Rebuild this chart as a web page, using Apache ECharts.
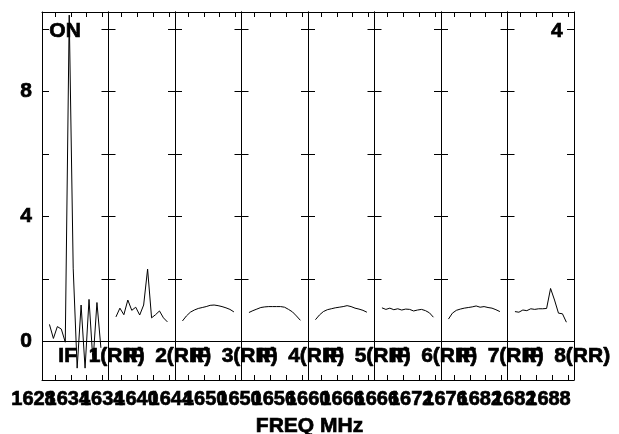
<!DOCTYPE html>
<html>
<head>
<meta charset="utf-8">
<script src="https://cdn.jsdelivr.net/npm/echarts@6/dist/echarts.min.js"></script>
<style>html,body{margin:0;padding:0;background:#fff}#c{width:619px;height:434px}</style>
</head>
<body>
<div id="c"></div>
<script>
// ---- data ----
const ifLabels = ['IF  1(RR)', 'IF  2(RR)', 'IF  3(RR)', 'IF  4(RR)', 'IF  5(RR)', 'IF  6(RR)', 'IF  7(RR)', 'IF  8(RR)'];
const freqTickLabels = ['1628', '1634', '1634', '1640', '1644', '1650', '1650', '1656',
                        '1660', '1666', '1666', '1672', '1676', '1682', '1682', '1688'];
const yTickLabels = [0, 4, 8];
// channel offsets within each IF (MHz)
const channelMHz = [-0.35, -0.10, 0.15, 0.40, 0.65, 0.90, 1.15, 1.40, 1.65, 1.90, 2.15, 2.40, 2.65, 2.90];
const if1 = [0.55, 0.10, 0.48, 0.40, -0.02, 10.45, 2.35, -0.85, 1.17, -0.85, 1.35, -0.65, 1.25, -0.20];
const if2 = [0.79, 1.07, 0.86, 1.33, 1.00, 1.10, 0.85, 1.17, 2.32, 0.76, 0.86, 0.98, 0.76, 0.63];
const if3 = [0.66, 0.82, 0.94, 1.01, 1.06, 1.09, 1.12, 1.16, 1.17, 1.15, 1.12, 1.08, 1.03, 0.95];
const if4 = [0.93, 0.99, 1.04, 1.09, 1.11, 1.12, 1.12, 1.12, 1.12, 1.10, 1.03, 0.95, 0.82, 0.68];
const if5 = [0.70, 0.85, 0.96, 1.02, 1.05, 1.08, 1.10, 1.12, 1.15, 1.12, 1.07, 1.04, 1.00, 0.94];
const if6 = [1.08, 1.03, 1.07, 1.02, 1.05, 1.01, 1.04, 1.03, 0.98, 1.01, 1.03, 0.99, 0.92, 0.78];
const if7 = [0.72, 0.91, 1.00, 1.04, 1.07, 1.09, 1.11, 1.14, 1.10, 1.12, 1.09, 1.07, 1.02, 0.96];
const if8 = [0.96, 0.94, 1.01, 0.99, 1.05, 1.03, 1.05, 1.05, 1.06, 1.70, 1.33, 0.91, 0.89, 0.62];
const spectra = [if1, if2, if3, if4, if5, if6, if7, if8];
const cornerLeft = 'ON';
const cornerRight = '4';
const xTitle = 'FREQ MHz';

// ---- layout / style ----
const FONT = "'Liberation Sans', Arial, Helvetica, sans-serif";
const PL = 42, PR = 574, PT = 12, PB = 380;
const nP = spectra.length;
const PW = (PR - PL) / nP;
const X_MIN = -0.82, X_MAX = 3.38;
const Y_MIN = -1.23, Y_MAX = 10.55;
const black = '#000';
const heavy = { textBorderColor: black, textBorderWidth: 0.7 };
const heavyG = { stroke: black, lineWidth: 0.7 };

const grids = [], xAxes = [], yAxes = [], series = [], graphics = [];
for (let i = 0; i < nP; i++) {
  grids.push({ left: PL + i * PW, top: PT, width: PW, height: PB - PT });
  ['bottom', 'top'].forEach(pos => xAxes.push({
    type: 'value', gridIndex: i, position: pos, min: X_MIN, max: X_MAX, splitNumber: 4,
    axisLine: { show: true, onZero: false, lineStyle: { color: black, width: 1 } },
    axisTick: { show: true, inside: true, length: 5, lineStyle: { color: black, width: 1 } },
    axisLabel: { show: false }, splitLine: { show: false }
  }));
  ['left', 'right'].forEach(pos => yAxes.push({
    type: 'value', gridIndex: i, position: pos, min: Y_MIN, max: Y_MAX, splitNumber: 6,
    axisLine: { show: true, onZero: false, lineStyle: { color: black, width: 1 } },
    axisTick: { show: true, inside: true, length: 7, lineStyle: { color: black, width: 1 } },
    axisLabel: Object.assign({
      show: i === 0 && pos === 'left', margin: 10, color: black, fontSize: 21, fontWeight: 'bold', fontFamily: FONT,
      formatter: v => (yTickLabels.indexOf(Math.round(v * 1000) / 1000) >= 0 ? String(v) : '')
    }, heavy),
    splitLine: { show: false }
  }));
  series.push({
    type: 'line', xAxisIndex: 2 * i, yAxisIndex: 2 * i,
    data: channelMHz.map((x, k) => [x, spectra[i][k]]),
    symbol: 'none', showSymbol: false, animation: false, clip: true,
    lineStyle: { color: black, width: 1 },
    markLine: {
      silent: true, symbol: ['none', 'none'], animation: false,
      label: { show: false },
      lineStyle: { color: black, width: 1, type: 'solid' },
      data: [{ yAxis: 0 }]
    }
  });
  graphics.push({
    type: 'text', left: PL + i * PW + 16, top: 345, z: 10,
    style: Object.assign({ text: ifLabels[i], fill: black, font: 'bold 21px ' + FONT }, heavyG)
  });
}
// overlay grid carrying the frequency tick labels
grids.push({ left: 33.5, top: PT, width: 515, height: PB - PT });
xAxes.push({
  type: 'category', gridIndex: nP, data: freqTickLabels, boundaryGap: false,
  axisLine: { show: false }, axisTick: { show: false }, splitLine: { show: false },
  axisLabel: Object.assign({ interval: 0, margin: 9, color: black, fontSize: 20, fontWeight: 'bold', fontFamily: FONT, hideOverlap: false }, heavy)
});
yAxes.push({ type: 'value', gridIndex: nP, show: false });

graphics.push(
  { type: 'text', left: 49, top: 20, z: 10, style: Object.assign({ text: cornerLeft, fill: black, font: 'bold 21px ' + FONT }, heavyG) },
  { type: 'text', right: 619 - 563, top: 20, z: 10, style: Object.assign({ text: cornerRight, fill: black, font: 'bold 21px ' + FONT }, heavyG) },
  { type: 'text', left: 'center', top: 415, z: 10, style: Object.assign({ text: xTitle, fill: black, font: 'bold 21px ' + FONT }, heavyG) }
);

const chart = echarts.init(document.getElementById('c'), null, { renderer: 'canvas' });
chart.setOption({
  backgroundColor: '#fff',
  animation: false,
  grid: grids,
  xAxis: xAxes,
  yAxis: yAxes,
  series: series,
  graphic: graphics
});
</script>
</body>
</html>
